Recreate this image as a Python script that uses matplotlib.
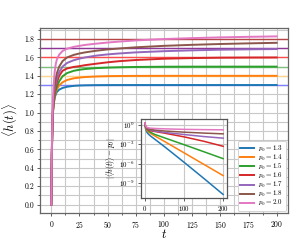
import matplotlib
matplotlib.use('Agg')
import matplotlib.pyplot as plt
from matplotlib.ticker import MultipleLocator, FixedLocator, NullLocator, FormatStrFormatter

plt.rcParams.update({
    'font.family': 'serif',
    'font.serif': ['cmr10', 'DejaVu Serif'],
    'mathtext.fontset': 'cm',
    'axes.formatter.use_mathtext': True,
    'axes.unicode_minus': False,
})

# ---------------- data ----------------
p0_values = ['1.3', '1.4', '1.5', '1.6', '1.7', '1.8', '2.0']
series_colors = ['#1f77b4', '#ff7f0e', '#2ca02c', '#d62728', '#9467bd', '#8c564b', '#e377c2']

t_main = [0, 0.5, 1, 1.5, 2, 3, 4, 5, 7, 10, 14, 20, 25, 30, 40, 50, 60, 75, 100, 125, 150, 175, 200]
h_13 = [0, 0.55, 0.85, 1.0, 1.08, 1.16, 1.20, 1.225, 1.25, 1.268, 1.281, 1.291, 1.295, 1.297, 1.299, 1.2996, 1.2998, 1.3, 1.3, 1.3, 1.3, 1.3, 1.3]
h_14 = [0, 0.55, 0.85, 1.0, 1.08, 1.17, 1.22, 1.255, 1.295, 1.33, 1.355, 1.373, 1.381, 1.387, 1.393, 1.3965, 1.398, 1.3993, 1.3999, 1.4, 1.4, 1.4, 1.4]
h_15 = [0, 0.55, 0.86, 1.01, 1.09, 1.18, 1.24, 1.28, 1.34, 1.395, 1.43, 1.455, 1.466, 1.474, 1.484, 1.4895, 1.493, 1.4965, 1.4991, 1.4998, 1.4999, 1.5, 1.5]
h_16 = [0, 0.56, 0.87, 1.02, 1.11, 1.21, 1.28, 1.33, 1.40, 1.455, 1.48, 1.497, 1.505, 1.516, 1.532, 1.547, 1.559, 1.572, 1.586, 1.593, 1.597, 1.5986, 1.5995]
h_17 = [0, 0.57, 0.88, 1.04, 1.13, 1.25, 1.32, 1.37, 1.44, 1.50, 1.54, 1.57, 1.587, 1.60, 1.62, 1.633, 1.643, 1.655, 1.668, 1.677, 1.684, 1.688, 1.691]
h_18 = [0, 0.57, 0.89, 1.06, 1.16, 1.29, 1.37, 1.43, 1.50, 1.56, 1.60, 1.628, 1.643, 1.655, 1.673, 1.687, 1.697, 1.710, 1.726, 1.737, 1.746, 1.753, 1.759]
h_20 = [0, 0.6, 0.95, 1.15, 1.28, 1.44, 1.53, 1.58, 1.63, 1.67, 1.695, 1.715, 1.726, 1.736, 1.750, 1.762, 1.772, 1.785, 1.800, 1.810, 1.818, 1.824, 1.829]

# horizontal reference lines
hline_values = [1.3, 1.4, 1.5, 1.6, 1.7, 1.8]
hline_colors = ['#7f7fff', '#ffd58f', '#7fbf7f', '#ff4d4d', '#8e3595', '#b84545']

# inset: log10 |<h(t)> - p0|
t_inset = [0, 1, 2, 3, 5, 7, 10, 15, 25, 50, 100, 150, 200]
d_13 = [0.114, -0.35, -0.66, -0.85, -1.12, -1.30, -1.49, -1.75, -2.20, -3.35, -5.75, -8.20, -10.7]
d_14 = [0.146, -0.26, -0.49, -0.64, -0.84, -0.98, -1.15, -1.35, -1.70, -2.55, -4.30, -6.05, -7.80]
d_15 = [0.176, -0.19, -0.39, -0.49, -0.66, -0.80, -0.98, -1.17, -1.47, -2.00, -3.05, -4.12, -5.20]
d_16 = [0.204, -0.14, -0.31, -0.41, -0.57, -0.70, -0.84, -0.93, -1.02, -1.28, -1.85, -2.52, -3.30]
d_17 = [0.230, -0.09, -0.24, -0.35, -0.48, -0.59, -0.70, -0.81, -0.95, -1.17, -1.49, -1.80, -2.05]
d_18 = [0.255, -0.04, -0.19, -0.29, -0.43, -0.52, -0.62, -0.71, -0.80, -0.95, -1.13, -1.27, -1.39]
d_20 = [0.301, 0.02, -0.14, -0.25, -0.38, -0.43, -0.48, -0.52, -0.56, -0.62, -0.70, -0.74, -0.77]

main_series = [h_13, h_14, h_15, h_16, h_17, h_18, h_20]
inset_series = [d_13, d_14, d_15, d_16, d_17, d_18, d_20]

# ---------------- figure ----------------
fig = plt.figure(figsize=(2.91, 2.40), dpi=100)
ax = fig.add_axes([0.1375, 0.1125, 0.852, 0.771])

for v, c in zip(hline_values, hline_colors):
    ax.axhline(v, color=c, lw=1.0, zorder=1.5)

for h, c, p in zip(main_series, series_colors, p0_values):
    ax.plot(t_main, h, color=c, lw=1.4, label=r'$p_0 = %s$' % p, zorder=2)

ax.xaxis.set_major_locator(MultipleLocator(25))
ax.xaxis.set_minor_locator(MultipleLocator(12.5))
ax.yaxis.set_major_locator(MultipleLocator(0.2))
ax.yaxis.set_minor_locator(MultipleLocator(0.1))
ax.yaxis.set_major_formatter(FormatStrFormatter('%.1f'))
ax.grid(which='both', color='#c8c8c8', lw=0.8)
ax.set_axisbelow(True)
ax.tick_params(which='both', labelsize=5.5, color='#444444', width=0.6, direction='out', pad=1.5)
ax.tick_params(which='major', length=2.5)
ax.tick_params(which='minor', length=1.3)
for s in ax.spines.values():
    s.set_color('#666666')
    s.set_linewidth(0.9)
ax.set_xlabel(r'$t$', fontsize=9, va='center')
ax.xaxis.set_label_coords(0.5, -0.118)
ax.set_ylabel(r'$\langle h(t)\rangle$', fontsize=9, labelpad=3)

leg = ax.legend(loc='lower right', fontsize=5, handlelength=2.0, labelspacing=-0.15,
                frameon=True, framealpha=1, edgecolor='#cccccc', borderpad=0.35,
                handletextpad=0.6, borderaxespad=0.3)
leg.get_frame().set_linewidth(0.6)

# ---------------- inset ----------------
ins = fig.add_axes([0.4845, 0.175, 0.2955, 0.328])
for d, c in zip(inset_series, series_colors):
    ins.plot(t_inset, [10.0 ** v for v in d], color=c, lw=1.1)
ins.set_yscale('log')
ins.yaxis.set_major_locator(FixedLocator([1e0, 1e-3, 1e-6, 1e-9]))
ins.yaxis.set_minor_locator(NullLocator())
ins.xaxis.set_major_locator(FixedLocator([0, 100, 200]))
ins.grid(which='major', color='#c8c8c8', lw=0.8)
ins.set_axisbelow(True)
ins.tick_params(which='both', labelsize=5, color='#444444', width=0.6, length=2.5, pad=2)
for s in ins.spines.values():
    s.set_color('#555555')
    s.set_linewidth(0.9)
ins.set_ylabel(r'$|\langle h(t)\rangle - p_0|$', fontsize=5.5, labelpad=1)

fig.savefig('out.png', dpi=100)
